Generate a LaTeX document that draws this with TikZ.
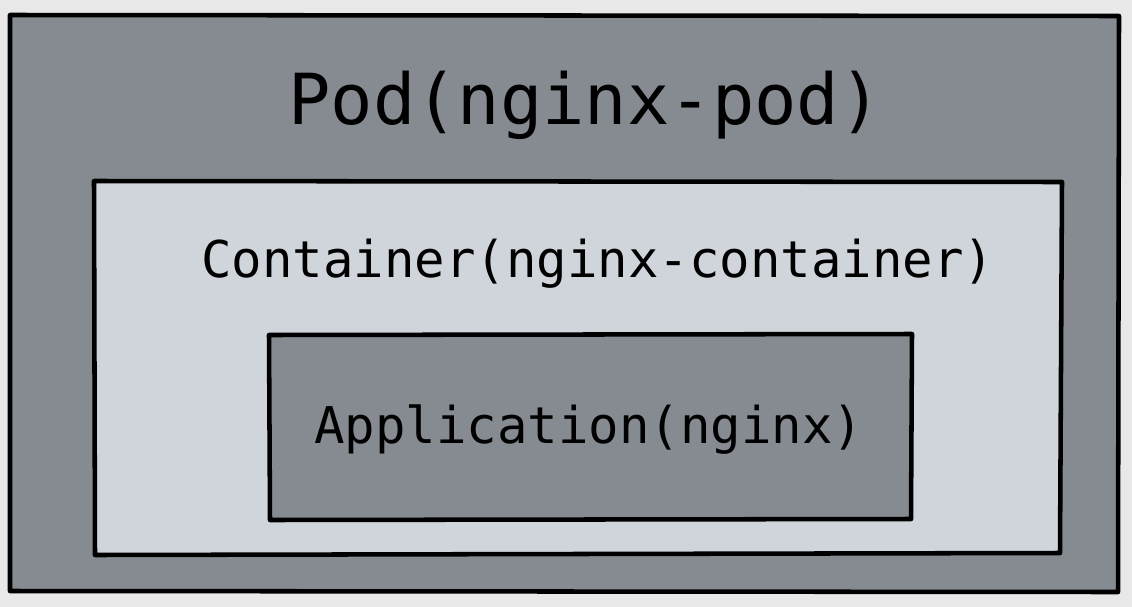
\documentclass[tikz,border=0pt]{standalone}
\usepackage{fontspec}
\setmonofont{DejaVu Sans Mono}
\tikzset{every picture/.style={line width=0.75pt}}
\definecolor{podgray}{RGB}{134,139,146}
\definecolor{boxlight}{RGB}{208,212,219}
\definecolor{pagebg}{RGB}{232,232,232}
\tikzset{
  sketchbox/.style={draw=black, line width=3.4pt, line join=round},
  labeltext/.style={font=\ttfamily\fontsize{38}{44}\selectfont, text=black},
}
\begin{document}
\begin{tikzpicture}[x=0.75pt,y=0.75pt,yscale=-1,xscale=1]
	%Background
	\fill [pagebg] (0,0) rectangle (1132,607);
	\useasboundingbox (0,0) rectangle (1132,607);

	%Shape: Rectangle [id:pod]
	\draw [sketchbox, fill=podgray] (10,15) -- (1119,16) -- (1118,592) -- (10,591) -- cycle ;
	%Shape: Rectangle [id:container]
	\draw [sketchbox, fill=boxlight] (94,181) -- (1062,182) -- (1060,553) -- (95,555) -- cycle ;
	%Shape: Rectangle [id:application]
	\draw [sketchbox, fill=podgray] (269,335) -- (912,334) -- (911,519) -- (270,520) -- cycle ;

	% Text Node
	\node [labeltext, font=\ttfamily\fontsize{52.8}{60}\selectfont] (pod) at (585,105) {Pod(nginx-pod)};
	% Text Node
	\node [labeltext] (container) at (598,264) {Container(nginx-container)};
	% Text Node
	\node [labeltext] (application) at (589,430) {Application(nginx)};

\end{tikzpicture}
\end{document}
